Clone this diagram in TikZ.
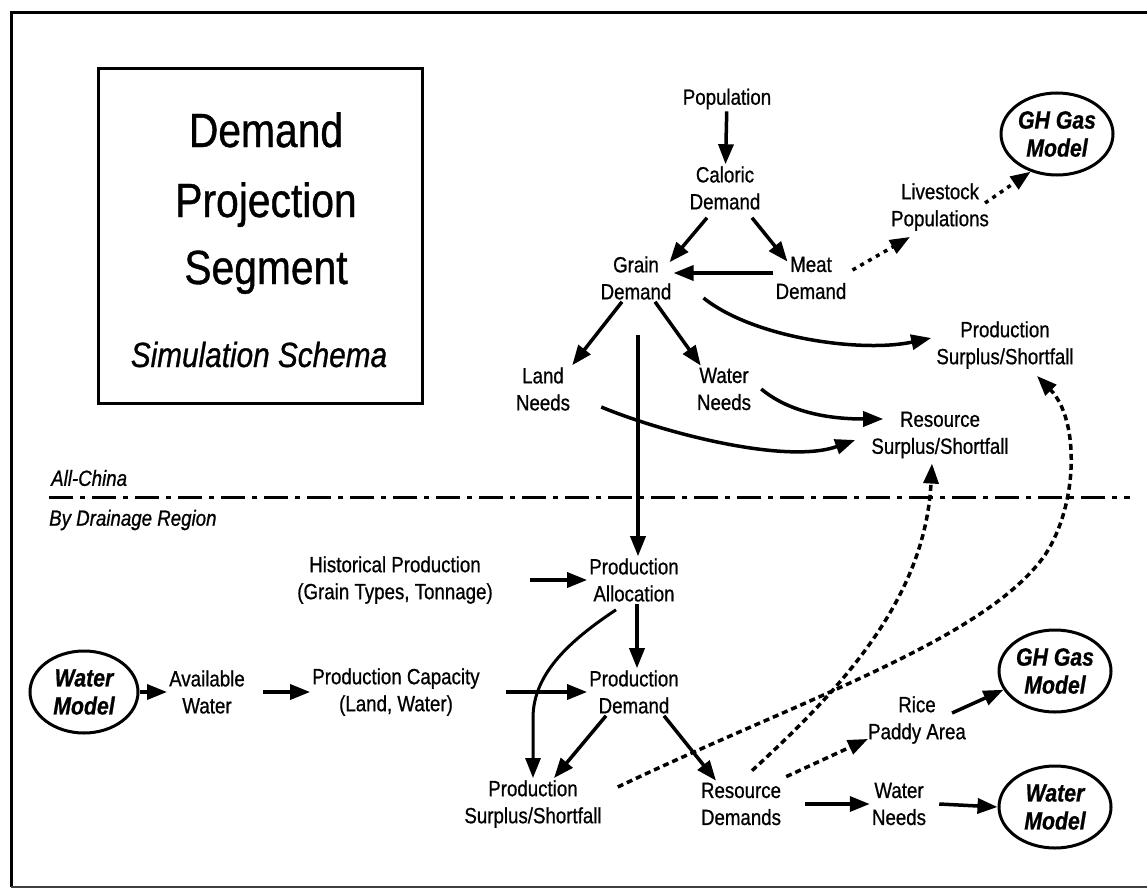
\documentclass[tikz,border=0pt]{standalone}
\usepackage{fontspec}
\setmainfont{Liberation Sans}[FakeStretch=0.85,FakeBold=0.8]
\usetikzlibrary{arrows.meta,shapes.geometric}

\begin{document}
\begin{tikzpicture}[x=1pt,y=1pt,
  lbl/.style={align=center,font=\fontsize{22}{27}\selectfont,inner sep=2pt},
  model/.style={ellipse,draw,line width=3pt,minimum width=112pt,minimum height=82pt,
    inner sep=0pt,align=center,font=\fontsize{25}{28}\selectfont\bfseries\itshape},
  arr/.style={line width=3.5pt,-{Triangle[length=20pt,width=15pt]}},
  darr/.style={arr,dash pattern=on 6pt off 4pt},
  dotarr/.style={arr,dash pattern=on 4pt off 5pt},
  region/.style={anchor=west,inner sep=0pt,font=\fontsize{22}{27}\selectfont\itshape},
  divider/.style={line width=3pt,dash pattern=on 24pt off 7pt on 5pt off 7pt},
]
\useasboundingbox (0,0) rectangle (1147,-888);

% outer frame
\draw[line width=3pt] (1147,-13) -- (11,-13) -- (11,-887);
\draw[line width=2pt,black!75] (11,-887) -- (1147,-887);

% title block
\node[draw,line width=3pt,minimum width=324pt,minimum height=334pt] (titlebox) at (260,-236) {};
\node[anchor=base,font=\fontsize{48}{50}\selectfont] (t1) at (266,-147) {Demand};
\node[anchor=base,font=\fontsize{48}{50}\selectfont] (t2) at (266,-217) {Projection};
\node[anchor=base,font=\fontsize{48}{50}\selectfont] (t3) at (266,-284) {Segment};
\node[anchor=base,font=\fontsize{35}{38}\selectfont\itshape] (t4) at (259,-367) {Simulation Schema};

% national level
\node[lbl] (pop) at (727,-99) {Population};
\node[lbl] (cal) at (725,-188) {Caloric\\Demand};
\node[lbl] (grain) at (636,-278) {Grain\\Demand};
\node[lbl] (meat) at (811,-278) {Meat\\Demand};
\node[lbl] (live) at (940,-207) {Livestock\\Populations};
\node[model] (gh1) at (1057,-134) {GH Gas\\Model};
\node[lbl] (psurA) at (1005,-345) {Production\\Surplus/Shortfall};
\node[lbl] (land) at (543,-389) {Land\\Needs};
\node[lbl] (wneedA) at (724,-389) {Water\\Needs};
\node[lbl] (rsur) at (940,-435) {Resource\\Surplus/Shortfall};

% level divider
\node[region] (allchina) at (51,-478) {All-China};
\draw[divider] (49,-497) -- (1130,-497);
\node[region] (bydrain) at (49,-520) {By Drainage Region};

% regional level
\node[lbl] (hist) at (395,-580) {Historical Production\\(Grain Types, Tonnage)};
\node[lbl] (alloc) at (634,-580) {Production\\Allocation};
\node[model,minimum width=108pt] (wm1) at (84,-692) {Water\\Model};
\node[lbl] (avail) at (207,-692) {Available\\Water};
\node[lbl] (pcap) at (396,-692) {Production Capacity\\(Land, Water)};
\node[lbl] (pdem) at (634,-692) {Production\\Demand};
\node[lbl] (rice) at (917,-720) {Rice\\Paddy Area};
\node[model] (gh2) at (1055,-671) {GH Gas\\Model};
\node[lbl] (psurB) at (533,-804) {Production\\Surplus/Shortfall};
\node[lbl] (rdem) at (741,-804) {Resource\\Demands};
\node[lbl] (wneedB) at (899,-804) {Water\\Needs};
\node[model] (wm2) at (1055,-807) {Water\\Model};

% connectors, national level
\draw[arr] (pop) -- (cal);
\draw[arr] ([xshift=-18pt,yshift=-6pt]cal.south) -- ([xshift=-4pt,yshift=-8pt]grain.north east);
\draw[arr] ([xshift=27pt,yshift=-6pt]cal.south) -- ([xshift=14pt,yshift=-7pt]meat.north west);
\draw[arr] ([yshift=5pt]meat.west) -- ([yshift=5pt]grain.east);
\draw[dotarr] ([xshift=4pt,yshift=8pt]meat.east) -- ([xshift=21pt,yshift=-4pt]live.south west);
\draw[dotarr] ([xshift=-6pt,yshift=4pt]live.east) -- (gh1.235);
\draw[arr] ([xshift=-14pt]grain.south) -- (land.north east);
\draw[arr] ([xshift=19pt]grain.south) -- ([xshift=6pt]wneedA.north west);
\draw[arr] ([xshift=30pt,yshift=-20pt]grain.east) .. controls +(50,-40) and +(-70,-15) .. ([xshift=-3pt,yshift=7pt]psurA.west);
\draw[arr] ([xshift=8pt]wneedA.east) .. controls +(30,-25) and +(-50,0) .. ([xshift=14pt,yshift=16pt]rsur.west);
\draw[arr] ([xshift=29pt,yshift=-18pt]land.east) .. controls +(60,-25) and +(-70,-25) .. ([xshift=-14pt,yshift=-5pt]rsur.west);
\draw[arr] ([xshift=2pt,yshift=-33pt]grain.south) -- ([xshift=4pt]alloc.north);

% connectors, regional level
\draw[arr] ([xshift=35pt]hist.east) -- (alloc.west);
\draw[arr] ([xshift=3pt]alloc.south) -- ([xshift=3pt]pdem.north);
\draw[arr] (wm1.east) -- (avail.west);
\draw[arr] ([xshift=16pt]avail.east) -- (pcap.west);
\draw[arr] ([xshift=24pt]pcap.east) -- (pdem.west);
\draw[arr,line width=3pt] ([xshift=-18pt,yshift=-6pt]alloc.south) .. controls +(-45,-30) and +(0,45) .. ([yshift=60pt]psurB.north) -- (psurB.north);
\draw[arr] ([xshift=-28pt]pdem.south) -- ([xshift=21pt]psurB.north);
\draw[arr] ([xshift=30pt]pdem.south) -- ([xshift=-25pt]rdem.north);
\draw[arr] ([xshift=22pt]rdem.east) -- (wneedB.west);
\draw[arr] ([xshift=11pt]wneedB.east) -- (wm2.west);
\draw[arr] ([xshift=-16pt,yshift=7pt]rice.east) -- (gh2.200);
\draw[darr] ([xshift=3pt,yshift=4pt]rdem.north east) -- ([xshift=2pt,yshift=7pt]rice.south west);
\draw[darr] ([xshift=11pt,yshift=10pt]rdem.north) .. controls (840,-690) and (925,-600) .. ([xshift=-8pt,yshift=-3pt]rsur.south);
\draw[darr] ([xshift=14pt,yshift=17pt]psurB.east) .. controls (800,-700) and (985,-640) .. (1045,-555)
  .. controls (1078,-505) and (1080,-420) .. ([xshift=32pt,yshift=-5pt]psurA.south);
\end{tikzpicture}
\end{document}
